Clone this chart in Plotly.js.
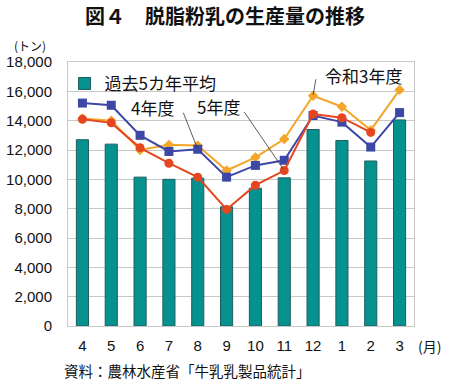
<!DOCTYPE html>
<html><head><meta charset="utf-8">
<script src="https://cdn.plot.ly/plotly-3.0.1.min.js"></script>
<style>html,body{margin:0;padding:0;background:#fff}#chart{width:450px;height:387px}</style>
</head><body><div id="chart"></div>
<script>
const months = ['4','5','6','7','8','9','10','11','12','1','2','3'];
const avg5 = [12700,12400,10150,10000,10080,8130,9400,10100,13400,12650,11250,14050];
const r4 = [15200,15050,13000,11900,12050,10150,10950,11300,14350,13900,12200,14550];
const r5 = [14100,13850,12150,11100,10150,7950,9600,10600,14450,14200,13200,null];
const r3 = [14150,14000,12000,12350,12300,10600,11500,12750,15700,14950,13350,16100];
const yTicks = [0,2000,4000,6000,8000,10000,12000,14000,16000,18000];

const F = 'Liberation Sans, Arial, Noto Sans CJK JP, sans-serif';
const FJ = 'Noto Sans CJK JP, sans-serif';

const traces = [
  {type:'bar', x:months, y:avg5, name:'過去5カ年平均',
   marker:{color:'#05928f', line:{color:'#1d5e5c', width:1}}, showlegend:true},
  {type:'scatter', mode:'lines+markers', x:months, y:r3, showlegend:false,
   line:{color:'#f4a62a', width:2}, marker:{symbol:'diamond', size:8, color:'#f4a62a'}},
  {type:'scatter', mode:'lines+markers', x:months, y:r4, showlegend:false,
   line:{color:'#3d47a6', width:2}, marker:{symbol:'square', size:9, color:'#3d47a6'}},
  {type:'scatter', mode:'lines+markers', x:months, y:r5, showlegend:false,
   line:{color:'#e6461f', width:2}, marker:{symbol:'circle', size:9, color:'#e6461f'}}
];

const i8 = months.indexOf('8'), i11 = months.indexOf('11'), i12 = months.indexOf('12');
function txt(x, y, t, size, xa) {
  return {xref:'paper', yref:'paper', x:x, y:y, xanchor:xa||'center', yanchor:'middle', text:t, showarrow:false,
          font:{family:FJ, size:size, color:'#111'}};
}

const layout = {
  width:450, height:387,
  margin:{l:68, r:36, t:62, b:61},
  paper_bgcolor:'#fff', plot_bgcolor:'#fff',
  font:{family:F, size:15, color:'#111'},
  title:{text:'<b>図４　脱脂粉乳の生産量の推移</b>', x:0.5, xanchor:'center', y:0.955, yanchor:'middle',
         font:{family:FJ, size:20, color:'#111'}},
  bargap:0.58,
  xaxis:{type:'category', range:[-0.5, 11.5], autorange:false, automargin:false, showgrid:false, showline:true,
         linecolor:'#c8c8c8', linewidth:1, mirror:true,
         ticks:'', ticklabelstandoff:6, tickfont:{family:F, size:15, color:'#111'}},
  yaxis:{range:[0,18000], autorange:false, automargin:false, tickvals:yTicks, tickformat:',d', showgrid:true, gridcolor:'#c8c8c8', gridwidth:1,
         showline:true, linecolor:'#c8c8c8', mirror:true, zeroline:false, ticks:'', ticklabelstandoff:12,
         tickfont:{family:F, size:15, color:'#111'}},
  showlegend:true,
  legend:{x:-0.01, y:0.985, xanchor:'left', yanchor:'top', bgcolor:'rgba(0,0,0,0)',
          font:{family:FJ, size:17, color:'#111'}, itemwidth:30},
  annotations:[
    txt(-0.11, 1.064, '(トン)', 12),
    txt(1.046, -0.076, '(月)', 14),
    txt(-0.017, -0.167, '資料：農林水産省「牛乳乳製品統計」', 14.5, 'left'),
    txt(0.243, 0.826, '4年度', 17),
    txt(0.434, 0.83, '5年度', 17),
    txt(0.853, 0.947, '令和3年度', 17),
    {x:i8, y:r4[i8], ax:-15, ay:-38, text:'', showarrow:true, arrowhead:0, arrowwidth:0.8, arrowcolor:'#333', standoff:2},
    {x:i11, y:r5[i11], ax:-41, ay:-60, text:'', showarrow:true, arrowhead:0, arrowwidth:0.8, arrowcolor:'#333', standoff:2},
    {x:i12, y:r3[i12], ax:3, ay:-18, text:'', showarrow:true, arrowhead:0, arrowwidth:0.8, arrowcolor:'#333', standoff:1}
  ]
};

Plotly.newPlot('chart', traces, layout, {displayModeBar:false, staticPlot:true});
</script></body></html>
